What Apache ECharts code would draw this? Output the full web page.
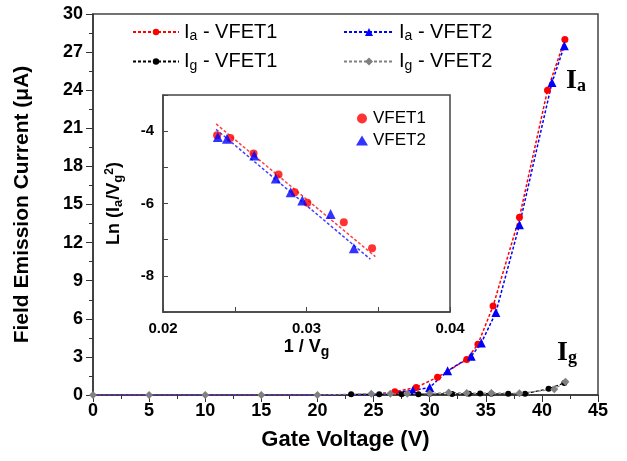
<!DOCTYPE html>
<html>
<head>
<meta charset="utf-8">
<script src="https://cdn.jsdelivr.net/npm/echarts@6/dist/echarts.min.js"></script>
<style>
  html, body { margin: 0; padding: 0; background: #fff; }
  #chart { width: 627px; height: 461px; }
</style>
</head>
<body>
<div id="chart"></div>
<script>
// main plot: gate voltage (V) vs current (uA)
const iaVfet1 = [[0, 0], [5, 0], [10, 0], [15, 0], [20, 0], [23, 0.02], [25, 0.05], [26.9, 0.25], [28.8, 0.6], [30.7, 1.4], [33.3, 2.8], [34.3, 4.0], [35.65, 7.0], [38.0, 14.0], [40.5, 24.0], [42.05, 28.0]];
const iaVfet2 = [[0, 0], [5, 0], [10, 0], [15, 0], [20, 0], [25, 0.02], [28.5, 0.35], [30.0, 0.6], [31.6, 1.9], [33.7, 3.05], [34.6, 4.1], [35.9, 6.5], [38.0, 13.4], [40.9, 24.6], [42.0, 27.5]];
const igVfet1 = [[23, 0.05], [25.5, 0.05], [27.5, 0.06], [29, 0.05], [30, 0.1], [32, 0.08], [33.5, 0.1], [34.5, 0.12], [35.5, 0.1], [37, 0.1], [38.5, 0.1], [40.6, 0.5], [42, 0.95]];
const igVfet2 = [[0, 0], [5, 0], [10, 0], [15, 0], [20, 0], [24.8, 0.1], [26.5, 0.1], [28, 0.1], [30, 0.12], [31.7, 0.2], [33.3, 0.15], [35.5, 0.15], [38, 0.13], [41.1, 0.45], [42.1, 1.05]];

// inset: 1/Vg vs ln(Ia/Vg^2)
const fnVfet1 = [[0.02377, -4.11], [0.02469, -4.19], [0.02631, -4.62], [0.02805, -5.20], [0.02918, -5.69], [0.03006, -5.98], [0.0326, -6.52], [0.03457, -7.24]];
const fnVfet2 = [[0.02382, -4.16], [0.02446, -4.21], [0.02636, -4.67], [0.02786, -5.31], [0.0289, -5.69], [0.02971, -5.92], [0.03168, -6.29], [0.0333, -7.24]];
const fitVfet1 = [[0.0237, -3.80], [0.0348, -7.47]];
const fitVfet2 = [[0.0237, -3.95], [0.03445, -7.54]];

const mainLegend1 = ['Ia - VFET1', 'Ig - VFET1'];
const mainLegend2 = ['Ia - VFET2', 'Ig - VFET2'];
const insetLegend = ['VFET1', 'VFET2'];

const chart = echarts.init(document.getElementById('chart'));
const font = 'Arial, "Liberation Sans", sans-serif';
const serif = '"Liberation Serif", "Times New Roman", serif';

const legendRich = {
  m: { fontSize: 20, fontFamily: font, color: '#000' },
  s: { fontSize: 14, fontFamily: font, color: '#000', verticalAlign: 'bottom', padding: [9, 0, 0, 0] }
};
function legendFmt(name) {
  // "Ia - VFET1" -> I with subscript a
  return '{m|I}{s|' + name.charAt(1) + '}{m|' + name.slice(2) + '}';
}
function bigLabel(sub) {
  return {
    text: '{i|I}{s|' + sub + '}',
    rich: {
      i: { fontSize: 28, fontWeight: 'bold', fontFamily: serif, fill: '#000' },
      s: { fontSize: 18, fontWeight: 'bold', fontFamily: serif, fill: '#000', verticalAlign: 'bottom', padding: [11, 0, 0, 0] }
    }
  };
}

const option = {
  animation: false,
  backgroundColor: '#fff',
  grid: [
    { left: 93, right: 29, top: 14, bottom: 66, show: true, borderColor: '#444', borderWidth: 1.5 },
    { left: 163, top: 95, width: 287, height: 217, show: true, backgroundColor: '#fff', borderColor: '#444', borderWidth: 1.5, z: 5 }
  ],
  xAxis: [
    {
      gridIndex: 0, type: 'value', min: 0, max: 45, interval: 5,
      name: 'Gate Voltage (V)', nameLocation: 'middle', nameGap: 34,
      nameTextStyle: { fontSize: 22, fontWeight: 'bold', fontFamily: font, color: '#000' },
      axisLine: { lineStyle: { color: '#333', width: 1.5 } },
      axisTick: { length: 7, lineStyle: { color: '#333' } },
      minorTick: { show: true, splitNumber: 2, length: 4, lineStyle: { color: '#333' } },
      axisLabel: { fontSize: 18, fontWeight: 'bold', fontFamily: font, color: '#000', margin: 7 },
      splitLine: { show: false }
    },
    {
      gridIndex: 1, type: 'value', min: 0.02, max: 0.04, interval: 0.005, z: 6,
      name: '{b|1 / V}{s|g}', nameLocation: 'middle', nameGap: 24,
      nameTextStyle: {
        rich: {
          b: { fontSize: 18, fontWeight: 'bold', fontFamily: font, color: '#000' },
          s: { fontSize: 14, fontWeight: 'bold', fontFamily: font, color: '#000', verticalAlign: 'bottom', padding: [9, 0, 0, 0] }
        }
      },
      axisLine: { onZero: false, lineStyle: { color: '#444', width: 1.5 } },
      axisTick: { inside: true, length: 5, lineStyle: { color: '#444' } },
      axisLabel: {
        fontSize: 15, fontWeight: 'bold', fontFamily: font, color: '#000', margin: 9,
        formatter: v => (Math.abs(v * 100 - Math.round(v * 100)) < 1e-6 ? v.toFixed(2) : '')
      },
      splitLine: { show: false }
    }
  ],
  yAxis: [
    {
      gridIndex: 0, type: 'value', min: 0, max: 30, interval: 3,
      name: 'Field Emission Current (μA)', nameLocation: 'middle', nameGap: 60,
      nameTextStyle: { fontSize: 21, fontWeight: 'bold', fontFamily: font, color: '#000' },
      axisLine: { lineStyle: { color: '#333', width: 1.5 } },
      axisTick: { length: 7, lineStyle: { color: '#333' } },
      minorTick: { show: true, splitNumber: 2, length: 4, lineStyle: { color: '#333' } },
      axisLabel: { fontSize: 18, fontWeight: 'bold', fontFamily: font, color: '#000', margin: 10 },
      splitLine: { show: false }
    },
    {
      gridIndex: 1, type: 'value', min: -9, max: -3, interval: 1, z: 6,
      name: '{b|Ln (I}{s|a}{b|/V}{s|g}{p|2}{b|)}', nameLocation: 'middle', nameGap: 38,
      nameTextStyle: {
        rich: {
          b: { fontSize: 18, fontWeight: 'bold', fontFamily: font, color: '#000' },
          s: { fontSize: 13, fontWeight: 'bold', fontFamily: font, color: '#000', verticalAlign: 'bottom', padding: [8, 0, 0, 0] },
          p: { fontSize: 12, fontWeight: 'bold', fontFamily: font, color: '#000', verticalAlign: 'top', padding: [0, 0, 8, 0] }
        }
      },
      axisLine: { onZero: false, lineStyle: { color: '#444', width: 1.5 } },
      axisTick: { inside: true, length: 5, lineStyle: { color: '#444' } },
      axisLabel: {
        fontSize: 15, fontWeight: 'bold', fontFamily: font, color: '#000', margin: 9,
        formatter: v => (v % 2 === 0 ? String(v) : '')
      },
      splitLine: { show: false }
    }
  ],
  legend: [
    {
      data: mainLegend1, left: 127, top: 17, orient: 'vertical', itemGap: 8,
      itemWidth: 46, itemHeight: 8, formatter: legendFmt,
      textStyle: { rich: legendRich }
    },
    {
      data: mainLegend2, left: 338, top: 17, orient: 'vertical',
      itemWidth: 50, itemHeight: 10, itemGap: 8, formatter: legendFmt,
      textStyle: { rich: legendRich }
    },
    {
      data: insetLegend, left: 351, top: 105, orient: 'vertical', z: 8,
      itemWidth: 12, itemHeight: 10, itemGap: 5,
      textStyle: { fontSize: 17, fontFamily: font, color: '#000' }
    }
  ],
  graphic: [
    { type: 'text', left: 566, top: 67, z: 10, style: bigLabel('a') },
    { type: 'text', left: 557, top: 339, z: 10, style: bigLabel('g') }
  ],
  series: [
    {
      name: 'Ia - VFET1', type: 'line', xAxisIndex: 0, yAxisIndex: 0, data: iaVfet1,
      symbol: 'circle', symbolSize: v => (v[1] > 0.1 ? 7 : 0),
      lineStyle: { color: '#ff0000', width: 1.5, type: [3, 2] },
      itemStyle: { color: '#ff0000' }, z: 3
    },
    {
      name: 'Ia - VFET2', type: 'line', xAxisIndex: 0, yAxisIndex: 0, data: iaVfet2,
      symbol: 'triangle', symbolSize: v => (v[1] > 0.1 ? 9 : 0),
      lineStyle: { color: '#0000ff', width: 1.5, type: [3, 2] },
      itemStyle: { color: '#0000ff' }, z: 3
    },
    {
      name: 'Ig - VFET1', type: 'line', xAxisIndex: 0, yAxisIndex: 0, data: igVfet1,
      symbol: 'circle', symbolSize: 6,
      lineStyle: { color: '#000', width: 1.2, type: [3, 2] },
      itemStyle: { color: '#000' }, z: 4
    },
    {
      name: 'Ig - VFET2', type: 'line', xAxisIndex: 0, yAxisIndex: 0, data: igVfet2,
      symbol: 'diamond', symbolSize: 8,
      lineStyle: { color: '#808080', width: 1.2, type: [3, 2] },
      itemStyle: { color: '#808080' }, z: 4
    },
    {
      name: 'fit1', type: 'line', xAxisIndex: 1, yAxisIndex: 1, data: fitVfet1,
      symbol: 'none', lineStyle: { color: '#ff4040', width: 1.5, type: [3, 2] }, z: 9
    },
    {
      name: 'fit2', type: 'line', xAxisIndex: 1, yAxisIndex: 1, data: fitVfet2,
      symbol: 'none', lineStyle: { color: '#4040ff', width: 1.5, type: [3, 2] }, z: 9
    },
    {
      name: 'VFET1', type: 'scatter', xAxisIndex: 1, yAxisIndex: 1, data: fnVfet1,
      symbol: 'circle', symbolSize: 8, itemStyle: { color: '#ff0000' }, z: 10
    },
    {
      name: 'VFET2', type: 'scatter', xAxisIndex: 1, yAxisIndex: 1, data: fnVfet2,
      symbol: 'triangle', symbolSize: 10, itemStyle: { color: '#0000ff' }, z: 10
    }
  ]
};

chart.setOption(option);
</script>
</body>
</html>
